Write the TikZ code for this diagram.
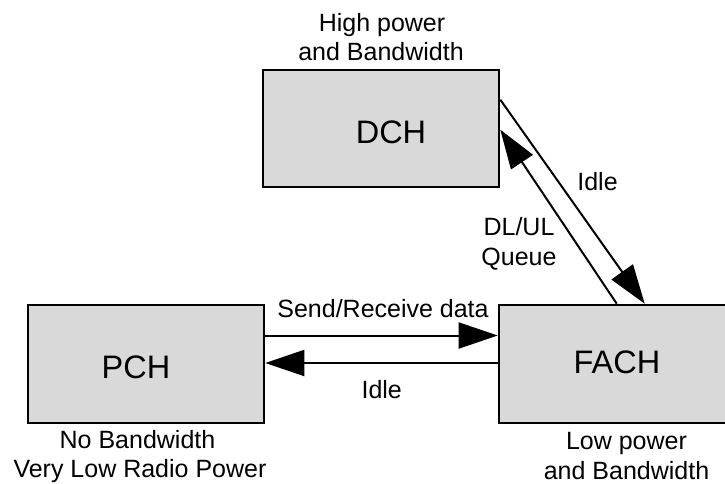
\documentclass[tikz,border=0pt]{standalone}
\usepackage{fontspec}
\setmainfont{Liberation Sans}
\usetikzlibrary{arrows.meta,calc}
\definecolor{boxgray}{HTML}{D9D9D9}
\begin{document}
\begin{tikzpicture}[x=1pt,y=-1pt,
  box/.style={draw=black, line width=2.6pt, fill=boxgray, rectangle, inner sep=0pt},
  big/.style={font=\fontsize{32.5}{39}\selectfont, inner sep=0pt, anchor=base},
  small/.style={font=\fontsize{25}{30}\selectfont, inner sep=0pt, anchor=base},
  arr/.style={line width=2pt, -{Triangle[length=39pt,width=26pt]}}]
\clip (0,0) rectangle (725,483);
\useasboundingbox (0,0) rectangle (725,483);
% boxes
\node[box, minimum width=236pt, minimum height=117pt] (dch) at (381,128.5) {};
\node[box, minimum width=236pt, minimum height=118pt] (pch) at (146,364) {};
\node[box, minimum width=246pt, minimum height=118pt] (fach) at (622,364) {};
% box texts
\node[big] (dcht) at (391,143) {DCH};
\node[big] (pcht) at (136,378) {PCH};
\node[big] (facht) at (617,373) {FACH};
% descriptions
\node[small] (hp1) at (382,31) {High power};
\node[small] (hp2) at (381,60.7) {and Bandwidth};
\node[small] (nb1) at (137.5,448) {No Bandwidth};
\node[small] (nb2) at (140,477) {Very Low Radio Power};
\node[small] (lp1) at (626.5,449) {Low power};
\node[small] (lp2) at (626.5,479) {and Bandwidth};
% connector labels
\node[small] (srd) at (383,317) {Send/Receive data};
\node[small] (idle1) at (381.7,398) {Idle};
\node[small] (idle2) at (597.5,190.5) {Idle};
\node[small] (dlul1) at (519,235.5) {DL/UL};
\node[small] (dlul2) at (519,265.5) {Queue};
% connector end points
\coordinate (sA) at ($(pch.north east)+(0,31.8)$);
\coordinate (sB) at ($(fach.north west)+(0,31.8)$);
\coordinate (iA) at ($(fach.north west)+(0,59.3)$);
\coordinate (iB) at ($(pch.north east)+(0,59.3)$);
\coordinate (dA) at ($(dch.north east)+(0,31)$);
\coordinate (dB) at ($(fach.north west)+(147,0)$);
\coordinate (qA) at ($(fach.north west)+(119,0)$);
\coordinate (qB) at ($(dch.north east)+(0,61)$);
% connectors
\draw[arr] (sA) -- (sB);
\draw[arr] (iA) -- (iB);
\draw[arr] (dA) -- (dB);
\draw[arr] (qA) -- (qB);
\end{tikzpicture}
\end{document}
